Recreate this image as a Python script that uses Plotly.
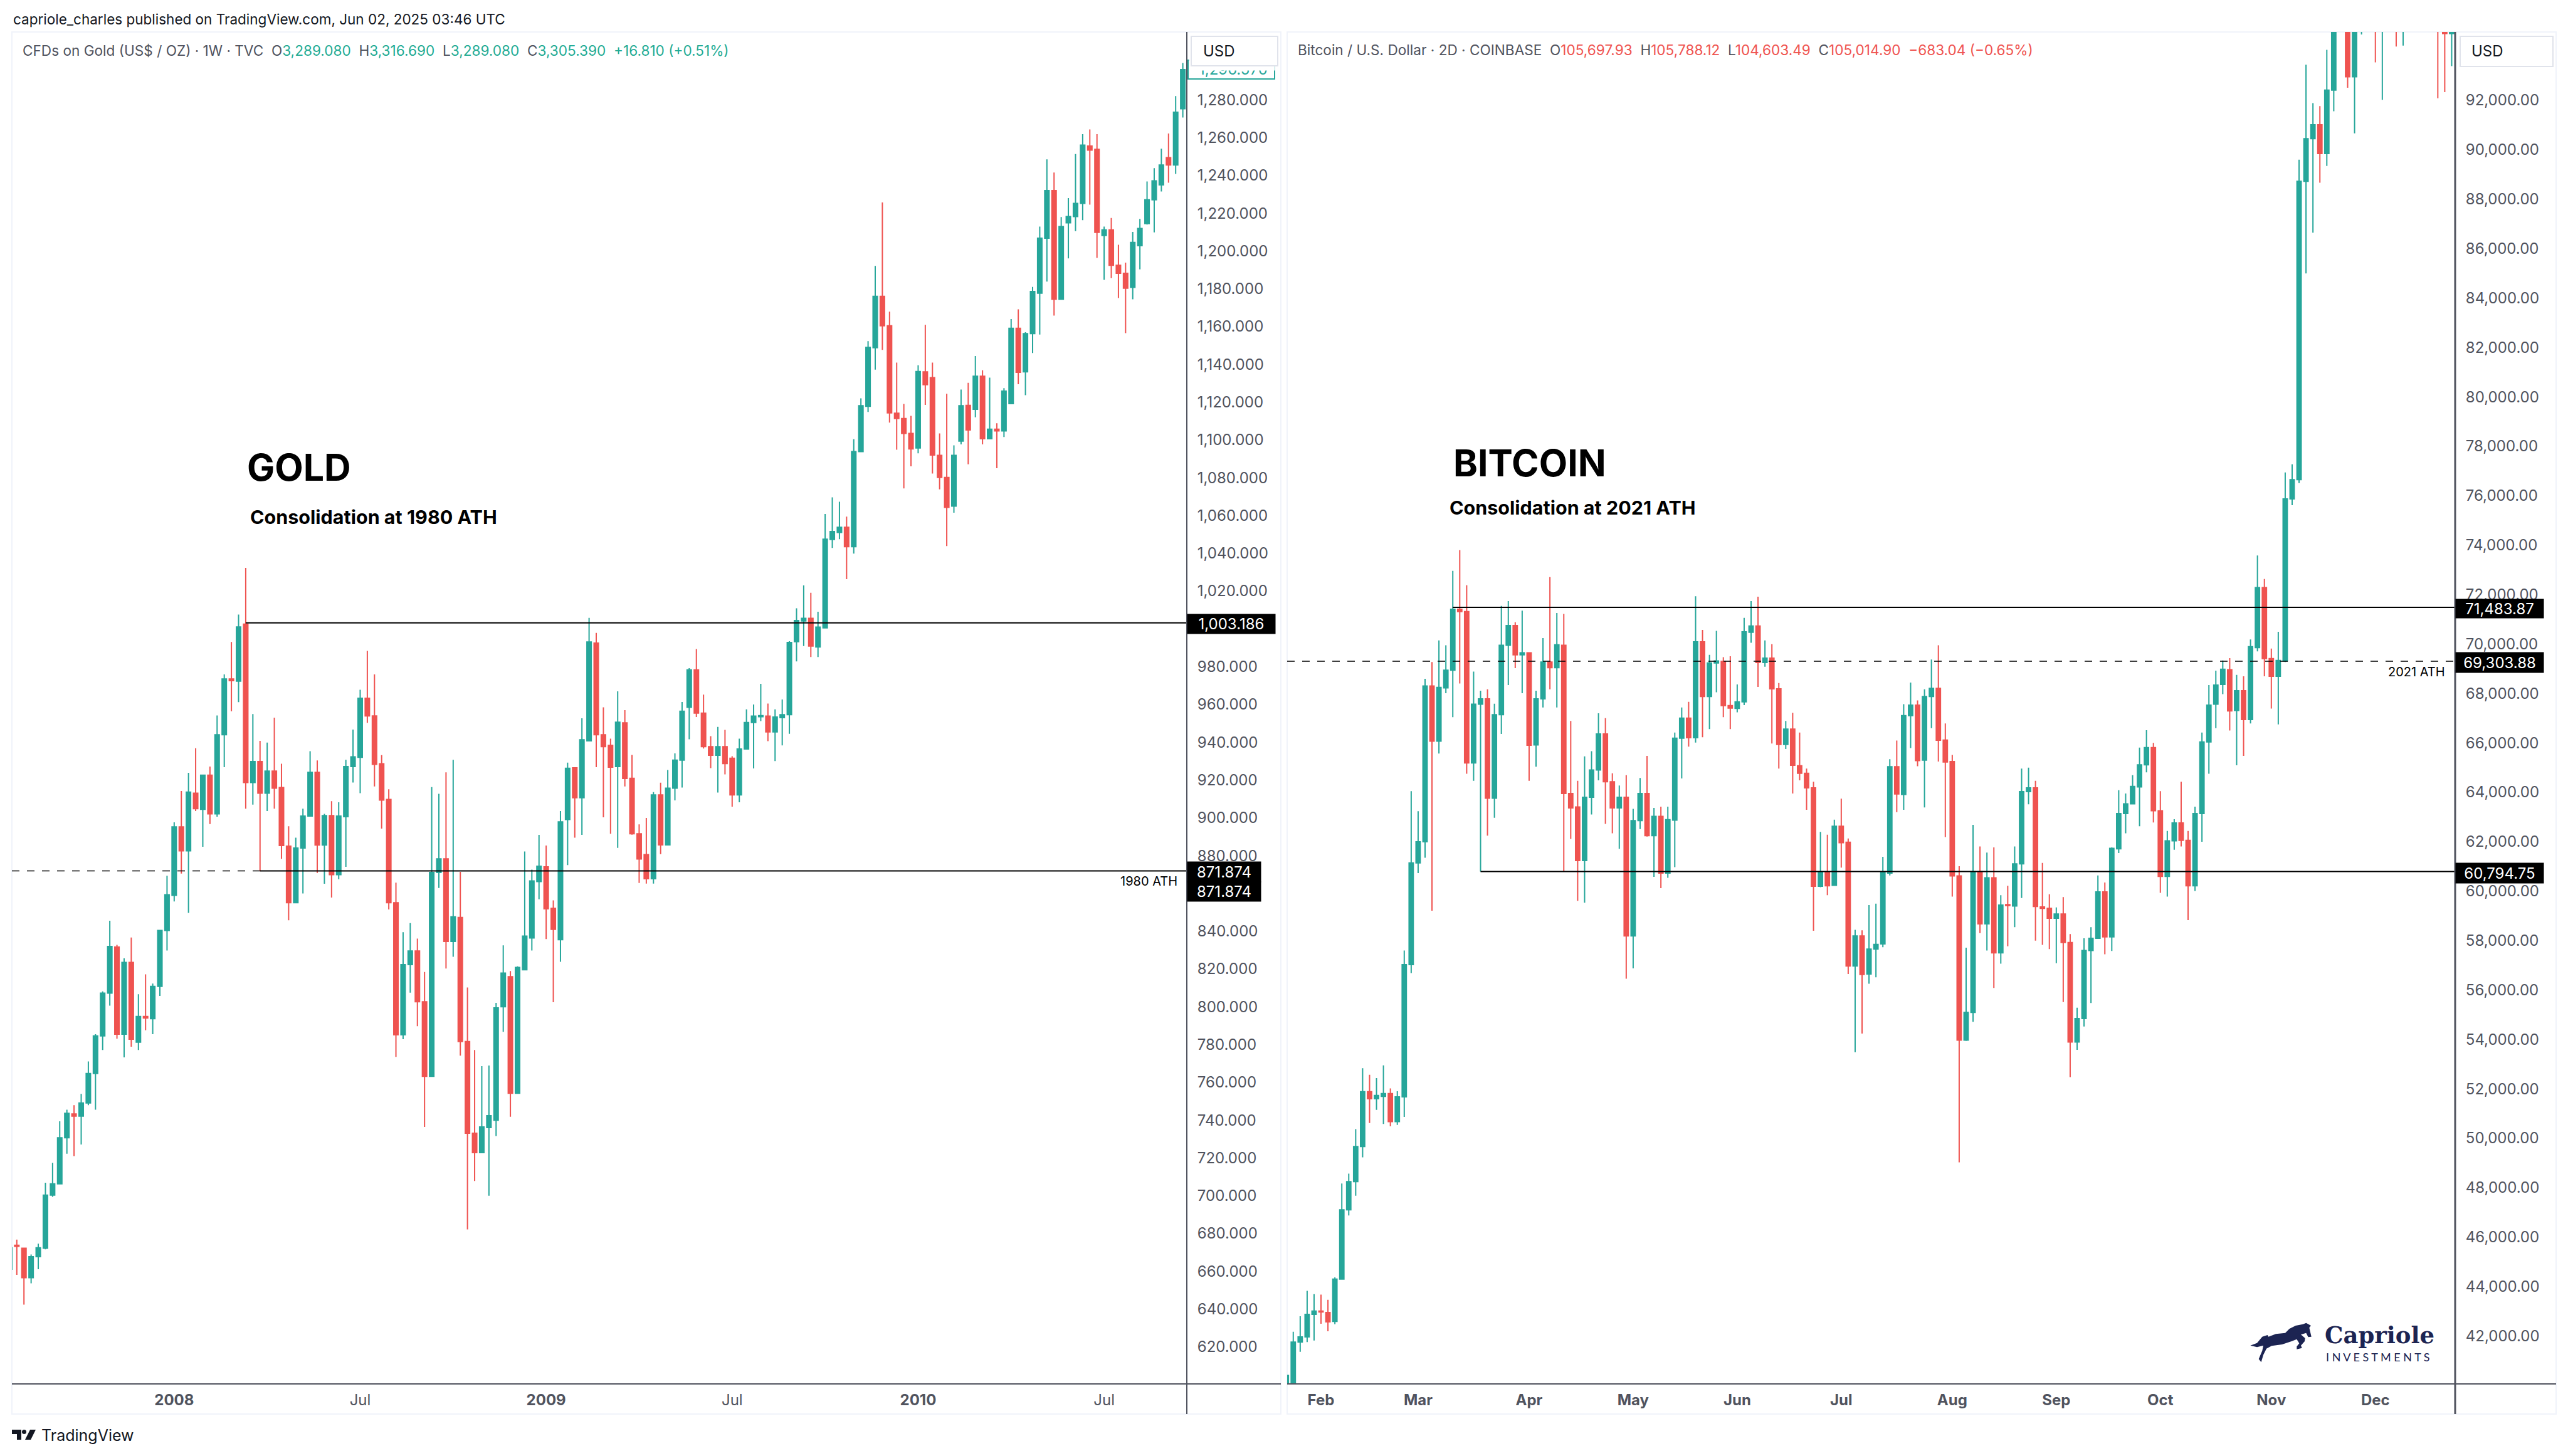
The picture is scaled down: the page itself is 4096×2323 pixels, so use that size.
#!/usr/bin/env python3
# -*- coding: utf-8 -*-
import plotly.graph_objects as go

WIDTH = 4096
HEIGHT = 2323

GREEN = "#26A69A"
RED = "#EF5350"
GREY = "#50535E"
FRAME = "#F0F3FA"
NAVY = "#1C2452"
FONT = "Inter"

# gold, weekly candles
gold_open = [
    661.1, 673.8, 672.2, 656.6, 667.7, 672.2, 700.3, 706.3, 730.7, 743.3,
    742.1, 749.1, 764.7, 784.6, 807.2, 831.6, 785.5, 823.5, 781.3, 794.9,
    793.7, 810.8, 840.4, 859.0, 895.2, 882.5, 913.0, 904.5, 922.6, 902.1,
    944.0, 973.5, 972.3, 1002.5, 918.7, 929.8, 913.0, 924.7, 916.0, 885.0,
    855.1, 884.0, 900.9, 924.1, 885.6, 901.2, 869.9, 900.6, 927.1, 932.0,
    963.3, 953.9, 928.6, 909.7, 855.1, 785.2, 822.3, 829.5, 802.7, 763.2,
    871.1, 878.3, 834.6, 847.3, 781.6, 733.1, 722.8, 736.1, 740.0, 800.0,
    815.9, 754.2, 819.6, 836.4, 866.3, 874.1, 852.1, 835.5, 899.1, 926.5,
    910.6, 940.7, 992.5, 944.0, 938.3, 927.1, 950.3, 920.9, 891.6, 880.5,
    867.8, 912.1, 885.7, 915.7, 930.5, 958.5, 978.3, 955.4, 937.7, 933.1,
    937.7, 931.5, 912.1, 936.4, 950.4, 953.5, 953.8, 945.5, 953.0, 954.6,
    993.2, 1004.2, 1005.6, 990.4, 1000.5, 1047.3, 1051.0, 1053.8, 1043.5, 1093.8,
    1117.8, 1148.8, 1176.0, 1160.4, 1114.1, 1111.3, 1103.4, 1095.7, 1136.0, 1133.0,
    1091.8, 1080.1, 1065.0, 1099.4, 1118.3, 1116.2, 1133.7, 1100.6, 1105.7, 1104.8,
    1119.2, 1159.1, 1136.0, 1156.3, 1177.7, 1206.8, 1232.0, 1174.4, 1214.9, 1218.2,
    1225.2, 1255.5, 1253.8, 1208.2, 1211.2, 1192.4, 1188.2, 1180.7, 1202.8, 1214.5,
    1227.1, 1235.0, 1249.4, 1245.5, 1275.3,
]
gold_high = [
    673.0, 676.8, 672.5, 668.9, 674.6, 706.9, 717.4, 739.4, 745.5, 747.9,
    753.9, 771.1, 785.5, 808.1, 845.5, 832.8, 825.6, 836.7, 806.6, 817.2,
    812.3, 840.4, 869.3, 897.6, 914.2, 923.8, 936.8, 922.6, 927.1, 954.2,
    975.9, 993.1, 1007.6, 1032.3, 954.9, 940.7, 939.8, 953.0, 928.6, 895.5,
    889.5, 904.8, 935.3, 930.4, 902.1, 908.8, 908.2, 930.7, 946.7, 967.8,
    988.3, 975.9, 933.2, 915.1, 865.7, 839.5, 844.3, 836.1, 818.4, 916.3,
    912.7, 924.1, 930.7, 871.4, 810.2, 777.1, 768.6, 768.9, 802.1, 832.5,
    818.9, 821.4, 882.2, 872.6, 891.0, 885.3, 856.3, 903.6, 929.2, 926.8,
    952.7, 1005.8, 997.9, 958.5, 941.9, 966.9, 957.0, 933.3, 896.5, 899.9,
    913.6, 918.6, 925.3, 934.1, 961.3, 979.2, 989.3, 965.2, 943.2, 948.1,
    946.5, 932.6, 941.9, 957.4, 960.0, 970.9, 960.5, 957.4, 962.6, 993.5,
    1010.9, 1023.0, 1019.1, 1009.1, 1060.8, 1069.6, 1067.3, 1059.4, 1100.4, 1122.0,
    1152.3, 1192.1, 1225.7, 1167.9, 1140.9, 1119.0, 1112.7, 1139.5, 1160.9, 1140.9,
    1103.4, 1124.4, 1097.1, 1126.7, 1130.2, 1144.4, 1136.9, 1133.0, 1108.8, 1127.4,
    1164.0, 1169.1, 1157.0, 1181.0, 1212.9, 1248.5, 1241.5, 1218.0, 1228.0, 1251.3,
    1261.8, 1264.3, 1261.8, 1212.9, 1217.5, 1203.3, 1193.8, 1210.1, 1217.0, 1236.8,
    1243.8, 1254.1, 1262.2, 1282.0, 1299.5,
]
gold_low = [
    661.0, 658.1, 642.4, 653.6, 661.1, 671.6, 699.4, 706.0, 722.2, 721.0,
    727.1, 747.9, 745.5, 777.1, 800.6, 783.1, 773.2, 778.9, 777.1, 787.6,
    785.5, 805.7, 829.8, 855.7, 870.5, 849.7, 903.6, 884.7, 896.7, 900.6,
    926.8, 956.4, 961.2, 904.8, 907.0, 872.0, 903.6, 904.8, 878.3, 845.8,
    855.0, 860.0, 900.9, 870.8, 865.1, 857.8, 867.5, 874.1, 918.7, 913.0,
    950.3, 916.6, 894.3, 851.5, 773.5, 782.8, 807.5, 789.7, 736.4, 763.0,
    862.9, 820.2, 826.5, 774.1, 682.2, 707.8, 722.5, 700.0, 731.6, 786.7,
    741.8, 754.0, 819.4, 829.8, 856.9, 835.8, 802.4, 823.8, 875.0, 889.5,
    891.0, 940.4, 926.8, 900.3, 891.6, 884.1, 916.6, 891.1, 865.5, 865.2,
    865.2, 880.8, 885.5, 909.2, 916.0, 941.6, 953.3, 936.7, 926.3, 913.4,
    923.0, 905.9, 908.2, 936.2, 926.1, 951.2, 940.6, 930.0, 938.3, 944.5,
    982.8, 990.9, 985.1, 985.1, 1000.3, 1042.8, 1047.5, 1026.3, 1039.8, 1093.6,
    1114.8, 1137.2, 1147.6, 1109.2, 1094.8, 1074.3, 1086.0, 1092.9, 1118.5, 1082.2,
    1073.8, 1043.8, 1061.5, 1097.6, 1087.1, 1112.0, 1097.6, 1100.4, 1085.0, 1101.5,
    1119.0, 1129.5, 1123.7, 1146.0, 1155.8, 1183.8, 1165.8, 1174.2, 1196.1, 1210.5,
    1216.3, 1224.5, 1196.3, 1184.7, 1185.6, 1175.1, 1156.5, 1174.4, 1190.3, 1214.0,
    1209.8, 1231.5, 1236.1, 1240.8, 1270.6,
]
gold_close = [
    672.5, 673.2, 656.6, 667.7, 672.5, 700.3, 706.3, 730.7, 743.6, 742.1,
    749.1, 764.7, 784.6, 807.2, 831.9, 785.5, 823.5, 782.8, 794.9, 794.0,
    810.8, 840.4, 859.3, 895.2, 882.5, 913.6, 904.8, 922.6, 902.1, 944.0,
    973.5, 972.6, 1001.0, 918.7, 929.8, 913.0, 924.7, 915.7, 885.3, 855.1,
    884.0, 900.9, 924.1, 885.6, 901.2, 869.9, 900.9, 927.1, 932.3, 963.3,
    953.9, 928.3, 909.4, 855.1, 785.2, 822.3, 829.5, 802.7, 763.2, 871.1,
    878.3, 834.6, 847.6, 781.6, 733.1, 722.8, 736.4, 742.4, 799.4, 817.8,
    754.2, 820.8, 837.4, 866.6, 874.4, 851.8, 841.0, 897.9, 926.2, 910.6,
    941.3, 993.1, 944.0, 937.7, 926.8, 950.6, 920.8, 891.6, 878.2, 867.8,
    912.1, 885.7, 915.7, 930.5, 956.4, 978.3, 955.4, 937.7, 933.1, 937.7,
    928.7, 912.1, 936.4, 950.4, 953.8, 954.1, 945.5, 953.3, 954.6, 992.8,
    1004.4, 1005.6, 990.9, 1000.9, 1047.5, 1051.5, 1053.8, 1043.5, 1093.8, 1118.1,
    1149.0, 1176.0, 1160.4, 1114.3, 1111.3, 1103.4, 1095.2, 1136.2, 1129.2, 1092.0,
    1080.1, 1064.3, 1091.8, 1118.1, 1105.3, 1133.7, 1100.6, 1105.7, 1104.8, 1125.8,
    1159.1, 1135.8, 1156.3, 1178.6, 1206.8, 1232.0, 1174.4, 1212.9, 1218.2, 1225.2,
    1256.0, 1253.4, 1209.8, 1211.2, 1192.4, 1188.2, 1180.3, 1204.5, 1211.9, 1227.1,
    1237.1, 1245.5, 1245.5, 1273.4, 1296.0,
]

# bitcoin, 2 day candles (the ones above the pane are only seen by their wicks)
btc_open = [
    40000, 39900, 41756, 41965, 42876, 43009, 42952, 42591, 44299, 47106,
    48244, 49667, 51887, 51602, 51697, 51811, 50673, 51678, 57028, 61144,
    61998, 68302, 66069, 68224, 68942, 71407, 71310, 65185, 67564, 67778,
    63762, 67138, 69951, 70747, 69563, 69642, 65915, 67778, 69272, 69039,
    69951, 63952, 63402, 61239, 63800, 64900, 66361, 64426, 63364, 63800,
    58185, 62851, 63952, 62244, 63022, 60727, 62870, 66190, 67002, 66206,
    70087, 67875, 69234, 69292, 67505, 67390, 67662, 70475, 70728, 69252,
    69428, 68185, 65933, 66554, 65071, 64767, 64179, 60195, 60765, 60233,
    62624, 61979, 56971, 58185, 56648, 57654, 57862, 60727, 65033, 63914,
    67099, 67525, 65298, 67875, 68204, 66114, 65242, 60613, 53973, 55093,
    60784, 58678, 60537, 57502, 59456, 59399, 61106, 64027, 64179, 59361,
    59304, 58906, 59076, 57919, 53897, 54846, 57597, 58090, 59968, 58147,
    61713, 63136, 63534, 64217, 65109, 65811, 63250, 60594, 62036, 62757,
    62055, 60214, 63136, 66038, 67564, 68360, 68962, 67312, 68108, 66943,
    69854, 72281, 69408, 68690, 69311, 75872, 76648, 88721, 90448, 91011,
    89847, 92409, 97000, 98500, 92952, 96000, 97500, 101000, 97000, 100000,
    97500, 96000, 98000, 100000, 101500, 100000, 98000, 97000, 94700,
]
btc_high = [
    40450, 42174, 42800, 43824, 43692, 43672, 43464, 44374, 48168, 48567,
    50369, 52835, 52569, 52437, 52949, 52019, 51906, 57597, 64046, 63231,
    68593, 69272, 70146, 69951, 72960, 73795, 72378, 68884, 68108, 68165,
    67584, 71542, 71736, 70883, 71349, 69660, 68108, 70242, 72707, 71253,
    71214, 66885, 64464, 65450, 65659, 67195, 67002, 64767, 64274, 64692,
    63326, 64578, 65469, 63364, 63420, 63420, 66418, 67428, 67661, 71931,
    70572, 69563, 70534, 69466, 69505, 68360, 71058, 71736, 71913, 70146,
    69990, 68418, 66885, 67215, 66418, 64957, 64426, 62396, 62282, 62889,
    63743, 62130, 58431, 58412, 59437, 59494, 61391, 65336, 66095, 67565,
    68437, 67719, 68165, 69369, 69951, 66787, 65507, 61011, 57710, 62681,
    61808, 61561, 61770, 59835, 60214, 61808, 64957, 64995, 64464, 61144,
    59873, 59342, 59759, 58260, 55282, 58090, 58545, 60632, 60347, 61770,
    64084, 63952, 64692, 65811, 66513, 66000, 64046, 62434, 62908, 64426,
    62434, 63420, 66418, 68340, 68923, 69330, 69427, 68748, 68690, 70184,
    73581, 72630, 69815, 70495, 76939, 77269, 89594, 93438, 91885, 91768,
    94039, 99000, 99500, 99800, 98000, 98500, 101000, 104000, 103000, 102000,
    100000, 99500, 101500, 104000, 104000, 102000, 99000, 98500, 98000,
]
btc_low = [
    39900, 39700, 41358, 41756, 41814, 42496, 42192, 42477, 44299, 46878,
    47675, 49231, 50616, 51147, 50578, 50483, 50540, 50862, 56686, 60727,
    61353, 59209, 65564, 68010, 67040, 68399, 64748, 64464, 60794, 62244,
    62965, 66361, 68340, 69020, 68010, 64464, 65033, 67428, 68165, 67428,
    60784, 62112, 59608, 59532, 63098, 64483, 62718, 62339, 61713, 56458,
    56876, 62510, 62206, 60575, 60120, 60537, 60973, 64559, 65849, 66012,
    66225, 66554, 68049, 67040, 66554, 67234, 67525, 70049, 68263, 69078,
    65972, 64957, 65754, 63952, 64483, 63288, 58393, 60158, 59835, 60214,
    60954, 56648, 53480, 54239, 56250, 56515, 57729, 60632, 63193, 63288,
    65792, 65052, 63383, 66594, 65242, 62187, 59778, 49022, 53936, 54713,
    58299, 57597, 56079, 57066, 57767, 58545, 59721, 63515, 57995, 57824,
    57654, 57085, 55510, 52475, 53575, 54524, 55472, 58090, 57445, 57578,
    61542, 62339, 63515, 62624, 64805, 62776, 59930, 59778, 61675, 61808,
    58830, 60006, 61998, 64748, 66594, 67972, 66497, 65090, 65469, 66787,
    69699, 68690, 67389, 66749, 69272, 75619, 76512, 84994, 86644, 88663,
    89342, 91555, 95500, 92506, 90662, 94660, 96000, 93535, 92021, 95500,
    94175, 94214, 96000, 99000, 98500, 95500, 92079, 92331, 93379,
]
btc_close = [
    40400, 41756, 41965, 42876, 43009, 42970, 42572, 44299, 47106, 48244,
    49667, 51887, 51602, 51735, 51811, 50673, 51678, 57028, 61144, 61998,
    68302, 66069, 68243, 68942, 71407, 71310, 65185, 67564, 67778, 63762,
    67138, 69951, 70747, 69563, 69642, 65906, 67778, 69272, 69039, 69970,
    63952, 63364, 61239, 63800, 64900, 66361, 64426, 63364, 63800, 58185,
    62851, 63952, 62244, 63022, 60727, 62889, 66190, 67002, 66206, 70087,
    67875, 69234, 69311, 67505, 67408, 67662, 70495, 70728, 69252, 69428,
    68185, 65933, 66554, 65090, 64767, 64179, 60195, 60765, 60214, 62624,
    61960, 56971, 58185, 56629, 57654, 57843, 60765, 65033, 63933, 67099,
    67525, 65280, 67875, 68204, 66109, 65223, 60613, 53973, 55093, 60784,
    58678, 60537, 57502, 59437, 59418, 61106, 64027, 64179, 59380, 59304,
    58906, 59076, 57919, 53897, 54846, 57597, 58090, 59968, 58147, 61732,
    63136, 63534, 64236, 65109, 65811, 63250, 60594, 62036, 62757, 62055,
    60214, 63136, 66038, 67525, 68340, 68981, 67292, 68108, 66943, 69893,
    72281, 69408, 68690, 69330, 75872, 76648, 88721, 90448, 91011, 89847,
    92409, 97000, 98500, 92952, 96000, 97500, 100000, 97000, 100000, 97500,
    96000, 98000, 100000, 101500, 100000, 98000, 95500, 94700, 97000,
]

# 860 and 1,000 sit under the price tags in the reference
gold_ticks = [t for t in range(620, 1281, 20) if t not in (860, 1000)]
btc_ticks = list(range(42000, 92001, 2000))

gold_time_pos = [23, 49, 75, 101, 127, 153]
gold_time_text = ["<b>2008</b>", "Jul", "<b>2009</b>", "Jul", "<b>2010</b>", "Jul"]
btc_time_pos = [5, 19, 35, 50, 65, 80, 96, 111, 126, 142, 157]
btc_time_text = ["<b>%s</b>" % m for m in
                 ["Feb", "Mar", "Apr", "May", "Jun", "Jul", "Aug", "Sep", "Oct", "Nov", "Dec"]]

# levels drawn on the charts
gold_ath = 871.874
gold_top = 1003.186
btc_ath = 69303.88
btc_top = 71483.87
btc_floor = 60794.75

# logo outlines, in page pixels
horse_outline = [(28, 170), (60, 158), (85, 128), (110, 120), (115, 128), (150, 115), (195, 110),
                 (215, 90), (245, 75), (280, 68), (295, 62), (318, 75), (310, 85), (320, 128),
                 (305, 130), (295, 110), (270, 118), (290, 135), (288, 150), (270, 170),
                 (275, 182), (250, 188), (250, 175), (262, 160), (250, 140), (225, 150),
                 (180, 165), (130, 172), (105, 185), (90, 215), (80, 250), (68, 235),
                 (85, 195), (90, 170), (60, 178)]


def fx(x):
    return x / WIDTH


def fy(y):
    return 1 - y / HEIGHT


def pane_axes(fig, name, left, right, xrange, yrange, yticks, yformat, tickpos, ticktext):
    top, bottom = 51, 2208
    fig.update_layout({
        "xaxis" + name: dict(domain=[fx(left), fx(right)], range=xrange, anchor="y" + name,
                             tickmode="array", tickvals=tickpos, ticktext=ticktext,
                             ticks="outside", ticklen=4, tickcolor="rgba(0,0,0,0)",
                             tickfont=dict(family=FONT, size=24, color=GREY),
                             showgrid=False, zeroline=False, rangeslider=dict(visible=False)),
        "yaxis" + name: dict(domain=[fy(bottom), fy(top)], range=yrange, anchor="x" + name,
                             side="right", tickmode="array", tickvals=yticks, tickformat=yformat,
                             ticks="outside", ticklen=11, tickcolor="rgba(0,0,0,0)",
                             tickfont=dict(family=FONT, size=24, color=GREY),
                             showgrid=False, zeroline=False),
    })


def add_candles(fig, opens, highs, lows, closes, name):
    fig.add_trace(go.Candlestick(
        x=list(range(len(opens))), open=opens, high=highs, low=lows, close=closes,
        increasing=dict(line=dict(color=GREEN, width=2), fillcolor=GREEN),
        decreasing=dict(line=dict(color=RED, width=2), fillcolor=RED),
        whiskerwidth=0, xaxis="x" + name, yaxis="y" + name, showlegend=False,
    ))


def add_level(fig, x0, x1, y, name, dash="solid", width=2):
    fig.add_trace(go.Scatter(x=[x0, x1], y=[y, y], mode="lines", xaxis="x" + name, yaxis="y" + name,
                             line=dict(color="black", width=width, dash=dash), showlegend=False))


def note(text, x, y, size, color="black", anchor="left", family=FONT, **kw):
    return dict(text=text, x=fx(x), y=fy(y), xref="paper", yref="paper", showarrow=False,
                xanchor=anchor, yanchor="middle", font=dict(family=family, size=size, color=color), **kw)


def price_tag(text, left, right, y0, y1):
    return note(text, left, (y0 + y1) / 2, 24, color="white", bgcolor="black",
                width=right - left, height=y1 - y0, align="center", borderpad=0)


def usd_button(left, width, height, text_x):
    return [
        note(" ", left, 82, 10, bgcolor="white", bordercolor="#E0E3EB", borderwidth=2,
             width=width, height=height, borderpad=0),
        note("USD", text_x, 82, 24, color="#131722"),
    ]


def legend_line(title, pairs, change, color):
    parts = ['<span style="color:%s">%s\u00a0\u00a0</span>' % (GREY, title)]
    for letter, value in pairs:
        parts.append('<span style="color:%s">%s</span><span style="color:%s">%s\u00a0\u00a0</span>'
                     % (GREY, letter, color, value))
    parts.append('<span style="color:%s">%s</span>' % (color, change))
    return "".join(parts)


def rect(x0, y0, x1, y1, **kw):
    return dict(type="rect", xref="paper", yref="paper", x0=fx(x0), x1=fx(x1), y0=fy(y0), y1=fy(y1), **kw)


def seg(x0, y0, x1, y1, color=GREY, width=2):
    return dict(type="line", xref="paper", yref="paper", x0=fx(x0), x1=fx(x1), y0=fy(y0), y1=fy(y1),
                line=dict(color=color, width=width))


def path(points, color):
    d = "M " + " L ".join("%.5f,%.5f" % (fx(x), fy(y)) for x, y in points) + " Z"
    return dict(type="path", xref="paper", yref="paper", path=d, fillcolor=color, line=dict(width=0))


fig = go.Figure()
add_candles(fig, gold_open, gold_high, gold_low, gold_close, "")
add_candles(fig, btc_open, btc_high, btc_low, btc_close, "2")

gold_xrange = [0.3155, 164.56]
btc_xrange = [0.117, 168.5]
add_level(fig, 33, gold_xrange[1], gold_top, "")
add_level(fig, 35, gold_xrange[1], gold_ath, "")
add_level(fig, gold_xrange[0], 35, gold_ath, "", dash="12px,12px", width=1.5)
add_level(fig, 24, btc_xrange[1], btc_top, "2")
add_level(fig, btc_xrange[0], btc_xrange[1], btc_ath, "2", dash="12px,12px", width=1.5)
add_level(fig, 28, btc_xrange[1], btc_floor, "2")

pane_axes(fig, "", 19, 1893, gold_xrange, [600.4, 1315.9], gold_ticks, ",.3f", gold_time_pos, gold_time_text)
pane_axes(fig, "2", 2053, 3916, btc_xrange, [40060, 94764], btc_ticks, ",.2f", btc_time_pos, btc_time_text)

shapes = [
    # pane frames
    rect(19, 51, 2043, 2256, line=dict(color=FRAME, width=2), layer="below"),
    rect(2053, 51, 4077, 2256, line=dict(color=FRAME, width=2), layer="below"),
    # price and time scale borders
    seg(19, 2208, 2043, 2208),
    seg(1893, 51, 1893, 2256),
    seg(2053, 2208, 4077, 2208),
    seg(3916, 51, 3916, 2256, width=3),
    # last price box behind the USD button
    rect(1895, 96, 2033, 126, line=dict(color=GREEN, width=2), fillcolor="white"),
    # TradingView mark
    path([(19, 2281), (34, 2281), (34, 2297), (27, 2297), (27, 2288), (19, 2288)], "#131722"),
    path([(48, 2281), (57, 2281), (49, 2297), (40, 2297)], "#131722"),
    dict(type="circle", xref="paper", yref="paper", x0=fx(35), x1=fx(42), y0=fy(2281), y1=fy(2288),
         fillcolor="#131722", line=dict(width=0)),
    # Capriole horse
    path([(3580 + x / 3, 2090 + y / 3) for x, y in horse_outline], NAVY),
]

annotations = [
    note("capriole_charles published on TradingView.com, Jun 02, 2025 03:46 UTC", 19, 30, 22.5, color="#131722"),
    note(legend_line("CFDs on Gold (US$ / OZ) · 1W · TVC",
                     [("O", "3,289.080"), ("H", "3,316.690"), ("L", "3,289.080"), ("C", "3,305.390")],
                     "+16.810 (+0.51%)", "#22AB94"), 34, 81, 22.6),
    note(legend_line("Bitcoin / U.S. Dollar · 2D · COINBASE",
                     [("O", "105,697.93"), ("H", "105,788.12"), ("L", "104,603.49"), ("C", "105,014.90")],
                     "\u2212683.04 (\u22120.65%)", RED), 2068, 80, 22.6),
    note("<b>GOLD</b>", 392, 745, 59),
    note("<b>Consolidation at 1980 ATH</b>", 397, 825, 30.5),
    note("<b>BITCOIN</b>", 2316, 738, 59),
    note("<b>Consolidation at 2021 ATH</b>", 2310, 809, 30.5),
    note("1980 ATH", 1880, 1406, 20, anchor="right"),
    note("2021 ATH", 3902, 1072, 20, anchor="right"),
    price_tag("1,003.186", 1893, 2033, 980, 1011),
    price_tag("871.874", 1893, 2010, 1375, 1407),
    price_tag("871.874", 1893, 2010, 1407, 1438),
    price_tag("71,483.87", 3916, 4056, 956, 986),
    price_tag("69,303.88", 3916, 4056, 1041, 1073),
    price_tag("60,794.75", 3916, 4056, 1377, 1409),
    # last price text, mostly hidden by the USD button
    note("1,296.570", 1910, 110, 24, color=GREEN),
    note(" ", 1896, 103, 10, bgcolor="white", width=136, height=18, borderpad=0),
    *usd_button(1899, 136, 45, 1917),
    *usd_button(3923, 146, 46, 3940),
    note("<b>Capriole</b>", 3706, 2130, 37, color=NAVY, family="DejaVu Serif"),
    note("I N V E S T M E N T S", 3708, 2165, 18, color=NAVY, family="Lato"),
    note("TradingView", 64, 2290, 25, color="#131722"),
]

fig.update_layout(
    width=WIDTH, height=HEIGHT, margin=dict(l=0, r=0, t=0, b=0, pad=0),
    paper_bgcolor="white", plot_bgcolor="white", boxgap=0.12,
    showlegend=False, shapes=shapes, annotations=annotations,
)

fig.write_html("out.html", config={"displayModeBar": False},
               post_script="document.body.style.margin='0';")
